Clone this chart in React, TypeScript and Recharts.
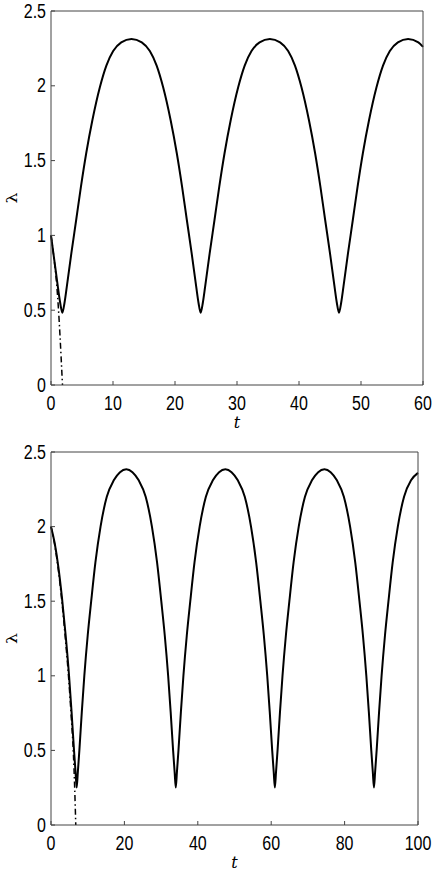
import React from "react";
import { LineChart, Line, XAxis, YAxis } from "recharts";

// upper panel: lambda(t) for t in [0, 60]
const upperT = [0, 0.5, 1.0, 1.48, 1.83, 2.18, 2.55, 3.28, 4.06, 4.83, 5.68, 6.68, 7.88, 8.93, 10.03, 11.33, 12.98, 14.64, 15.94, 17.04, 18.09, 19.29, 20.29, 21.14, 21.91, 22.69, 23.42, 23.79, 24.14, 24.49, 24.86, 25.59, 26.37, 27.14, 27.99, 28.99, 30.19, 31.24, 32.34, 33.64, 35.3, 36.95, 38.25, 39.35, 40.4, 41.6, 42.6, 43.45, 44.22, 45.0, 45.73, 46.1, 46.45, 46.8, 47.17, 47.9, 48.68, 49.45, 50.3, 51.3, 52.5, 53.55, 54.65, 55.95, 57.6, 59.25, 60];
const upperLambda = [1.0, 0.845, 0.69, 0.55, 0.483, 0.55, 0.657, 0.88, 1.103, 1.326, 1.549, 1.771, 1.99, 2.135, 2.232, 2.29, 2.313, 2.29, 2.232, 2.135, 1.99, 1.771, 1.549, 1.326, 1.103, 0.88, 0.657, 0.55, 0.483, 0.55, 0.657, 0.88, 1.103, 1.326, 1.549, 1.771, 1.99, 2.135, 2.232, 2.29, 2.313, 2.29, 2.232, 2.135, 1.99, 1.771, 1.549, 1.326, 1.103, 0.88, 0.657, 0.55, 0.483, 0.55, 0.657, 0.88, 1.103, 1.326, 1.549, 1.771, 1.99, 2.135, 2.232, 2.29, 2.313, 2.29, 2.26];
const upperApproxT = [0, 0.5, 0.9, 1.2, 1.45, 1.65, 1.85];
const upperApproxLambda = [1.0, 0.84, 0.68, 0.51, 0.33, 0.17, 0.0];
const upperTicks = [0, 10, 20, 30, 40, 50, 60];

// lower panel: lambda(t) for t in [0, 100]
const lowerT = [0, 1.0, 2.0, 3.0, 4.0, 4.92, 5.6, 6.27, 6.7, 7.0, 7.3, 7.73, 8.4, 9.08, 10.0, 10.95, 12.1, 13.5, 15.2, 17.1, 18.8, 20.5, 22.2, 23.9, 25.8, 27.5, 28.9, 30.05, 31.0, 31.92, 32.6, 33.27, 33.7, 34.0, 34.3, 34.73, 35.4, 36.08, 37.0, 37.95, 39.1, 40.5, 42.2, 44.1, 45.8, 47.5, 49.2, 50.9, 52.8, 54.5, 55.9, 57.05, 58.0, 58.92, 59.6, 60.27, 60.7, 61.0, 61.3, 61.73, 62.4, 63.08, 64.0, 64.95, 66.1, 67.5, 69.2, 71.1, 72.8, 74.5, 76.2, 77.9, 79.8, 81.5, 82.9, 84.05, 85.0, 85.92, 86.6, 87.27, 87.7, 88.0, 88.3, 88.73, 89.4, 90.08, 91.0, 91.95, 93.1, 94.5, 96.2, 98.1, 100];
const lowerLambda = [2.0, 1.89, 1.73, 1.52, 1.27, 1.0, 0.76, 0.5, 0.35, 0.252, 0.35, 0.5, 0.76, 1.0, 1.27, 1.5, 1.76, 2.0, 2.2, 2.31, 2.365, 2.384, 2.365, 2.31, 2.2, 2.0, 1.76, 1.5, 1.27, 1.0, 0.76, 0.5, 0.35, 0.252, 0.35, 0.5, 0.76, 1.0, 1.27, 1.5, 1.76, 2.0, 2.2, 2.31, 2.365, 2.384, 2.365, 2.31, 2.2, 2.0, 1.76, 1.5, 1.27, 1.0, 0.76, 0.5, 0.35, 0.252, 0.35, 0.5, 0.76, 1.0, 1.27, 1.5, 1.76, 2.0, 2.2, 2.31, 2.365, 2.384, 2.365, 2.31, 2.2, 2.0, 1.76, 1.5, 1.27, 1.0, 0.76, 0.5, 0.35, 0.252, 0.35, 0.5, 0.76, 1.0, 1.27, 1.5, 1.76, 2.0, 2.2, 2.31, 2.36];
const lowerApproxT = [0, 1.0, 2.0, 3.0, 3.95, 4.85, 5.5, 6.1, 6.45, 6.75];
const lowerApproxLambda = [2.0, 1.88, 1.71, 1.49, 1.24, 0.97, 0.73, 0.48, 0.25, 0.0];
const lowerTicks = [0, 20, 40, 60, 80, 100];

const lambdaTicks = [0, 0.5, 1, 1.5, 2, 2.5];

const AXIS = "#444";
const TICK = 4;
const SANS = "'Liberation Sans', Arial, Helvetica, sans-serif";
const SERIF = "'DejaVu Serif', 'Liberation Serif', serif";

const zip = (t: number[], l: number[]) => t.map((v, i) => ({ t: v, lambda: l[i] }));

function BottomTick(props: any) {
  const { x, y, payload } = props;
  return (
    <g>
      <line x1={x} y1={y} x2={x} y2={y - TICK} stroke={AXIS} />
      <text
        transform={`translate(${x},${y + 18}) scale(1,1.25)`}
        textAnchor="middle"
        dominantBaseline="central"
        fontSize={16}
        fontFamily={SANS}
        fill="#000"
      >
        {payload.value}
      </text>
    </g>
  );
}

function LeftTick(props: any) {
  const { x, y, payload } = props;
  return (
    <g>
      <line x1={x} y1={y} x2={x + TICK} y2={y} stroke={AXIS} />
      <text
        transform={`translate(${x - 5},${y}) scale(1,1.25)`}
        textAnchor="end"
        dominantBaseline="central"
        fontSize={16}
        fontFamily={SANS}
        fill="#000"
      >
        {payload.value}
      </text>
    </g>
  );
}

function TopTick(props: any) {
  const { x, y } = props;
  return <line x1={x} y1={y} x2={x} y2={y + TICK} stroke={AXIS} />;
}

function RightTick(props: any) {
  const { x, y } = props;
  return <line x1={x} y1={y} x2={x - TICK} y2={y} stroke={AXIS} />;
}

function TTitle(props: any) {
  const vb = props.viewBox || { x: 51, y: 385, width: 372 };
  return (
    <text
      x={vb.x + vb.width / 2}
      y={vb.y + 37}
      textAnchor="middle"
      dominantBaseline="central"
      fontSize={16}
      fontStyle="italic"
      fontFamily={SERIF}
      fill="#000"
    >
      t
    </text>
  );
}

function LambdaTitle(props: any) {
  const vb = props.viewBox || { x: 51, y: 11, height: 374 };
  return (
    <text
      transform={`translate(12,${vb.y + vb.height / 2}) scale(1,1.25) rotate(-90)`}
      textAnchor="middle"
      dominantBaseline="central"
      fontSize={14}
      fontFamily={SERIF}
      fill="#000"
    >
      λ
    </text>
  );
}

type PanelProps = {
  solid: { t: number; lambda: number }[];
  approx: { t: number; lambda: number }[];
  xMax: number;
  xTicks: number[];
  margin: { top: number; right: number; bottom: number; left: number };
};

// axes are 1px thick so that Recharts still draws them; margins are reduced by that 1px
function Panel({ solid, approx, xMax, xTicks, margin }: PanelProps) {
  return (
    <LineChart width={436} height={436} margin={margin}>
      <XAxis
        type="number"
        dataKey="t"
        domain={[0, xMax]}
        ticks={xTicks}
        interval={0}
        height={1}
        tickSize={0}
        tickMargin={0}
        tick={<BottomTick />}
        tickLine={false}
        axisLine={{ stroke: AXIS }}
        label={<TTitle />}
      />
      <XAxis
        xAxisId="top"
        orientation="top"
        type="number"
        dataKey="t"
        domain={[0, xMax]}
        ticks={xTicks}
        interval={0}
        height={1}
        tickSize={0}
        tickMargin={0}
        tick={<TopTick />}
        tickLine={false}
        axisLine={{ stroke: AXIS }}
      />
      <YAxis
        type="number"
        domain={[0, 2.5]}
        ticks={lambdaTicks}
        interval={0}
        width={1}
        tickSize={0}
        tickMargin={0}
        tick={<LeftTick />}
        tickLine={false}
        axisLine={{ stroke: AXIS }}
        label={<LambdaTitle />}
      />
      <YAxis
        yAxisId="right"
        orientation="right"
        type="number"
        domain={[0, 2.5]}
        ticks={lambdaTicks}
        interval={0}
        width={1}
        tickSize={0}
        tickMargin={0}
        tick={<RightTick />}
        tickLine={false}
        axisLine={{ stroke: AXIS }}
      />
      <Line
        data={approx}
        dataKey="lambda"
        type="monotone"
        stroke="#000"
        strokeWidth={1.5}
        strokeDasharray="6 3 1.5 3"
        dot={false}
        activeDot={false}
        isAnimationActive={false}
      />
      <Line
        data={solid}
        dataKey="lambda"
        type="monotone"
        stroke="#000"
        strokeWidth={2}
        dot={false}
        activeDot={false}
        isAnimationActive={false}
      />
    </LineChart>
  );
}

export default function App() {
  return (
    <div style={{ position: "absolute", left: 0, top: 0, width: 436, height: 872, background: "#fff" }}>
      <Panel
        solid={zip(upperT, upperLambda)}
        approx={zip(upperApproxT, upperApproxLambda)}
        xMax={60}
        xTicks={upperTicks}
        margin={{ top: 10, right: 12, bottom: 50, left: 50 }}
      />
      <Panel
        solid={zip(lowerT, lowerLambda)}
        approx={zip(lowerApproxT, lowerApproxLambda)}
        xMax={100}
        xTicks={lowerTicks}
        margin={{ top: 15, right: 17, bottom: 46, left: 50 }}
      />
    </div>
  );
}
